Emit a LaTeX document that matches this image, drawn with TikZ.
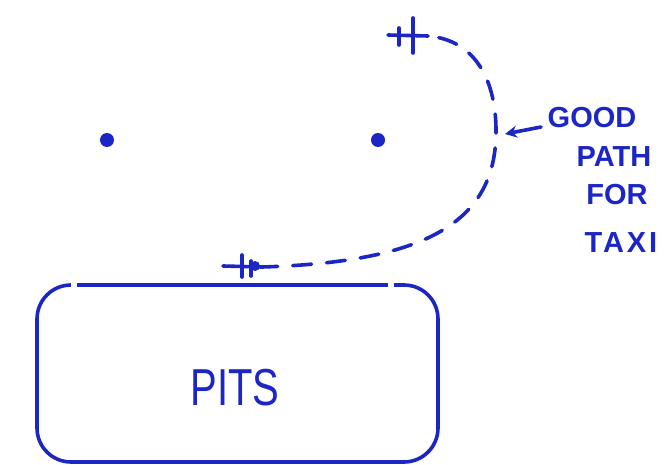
\documentclass[tikz,border=0pt]{standalone}
\usepackage{fontspec}
\usepackage{graphicx}
\setmainfont{Liberation Sans}
\usetikzlibrary{arrows.meta}
\definecolor{ink}{RGB}{28,38,196}
\tikzset{
  pen/.style={draw=ink, line width=3.6pt, line cap=round, line join=round},
  dot/.style={circle, fill=ink, draw=none, minimum size=14pt, inner sep=0pt},
  handtext/.style={text=ink, inner sep=0pt, font=\fontsize{29}{34}\selectfont\bfseries},
  taxipath/.style={pen, dash pattern=on 19pt off 15pt, dash phase=23pt},
  boxstyle/.style={pen, rounded corners=34pt, minimum width=401pt, minimum height=177pt, inner sep=0pt}
}
\begin{document}
\begin{tikzpicture}[x=1pt, y=-1pt]
\useasboundingbox (0,0) rectangle (669,465);
\fill[white] (0,0) rectangle (669,465);

% dots
\node[dot] (dotl) at (107,140) {};
\node[dot] (dotr) at (378,140) {};

% top start mark
\coordinate (topa) at (388,35);
\coordinate (topb) at (428,36);
\draw[pen] (topa) -- (topb);
\draw[pen] (399,28) -- (399,45);
\draw[pen] (413,18) -- (413,53);

% bottom end mark
\coordinate (bota) at (223,266);
\coordinate (botb) at (262,267);
\draw[pen] (bota) -- (botb);
\draw[pen] (242,255) -- (242,277);
\draw[pen] (251,261) -- (251,276);
\fill[ink] (255,266) circle (5pt);

% dashed taxi path
\coordinate (mid) at (496,135);
\draw[taxipath] (topb) .. controls (475,40) and (497,80) .. (mid)
  .. controls (494,220) and (430,262) .. (botb);

% label
\node[handtext] (good) at (592,118) {GOOD};
\node[handtext] (path) at (614,157) {PATH};
\node[handtext] (for) at (617,195) {FOR};
\node[handtext, font=\fontsize{29}{34}\selectfont\bfseries\addfontfeature{LetterSpace=10}] (taxi) at (621,243) {TAXI};

\coordinate (arrowtail) at (541,127);
\coordinate (arrowtip) at (505,134);
\draw[pen, -{Stealth[length=12pt, width=12pt]}] (arrowtail) -- (arrowtip);

% pits box
\node[boxstyle] (pits) at (237.5,373.5) {};
\draw[white, line width=6pt] (71,285) -- (77,285);
\draw[white, line width=6pt] (388,285) -- (394,285);
\node[text=ink, inner sep=0pt, font=\fontsize{40}{44}\selectfont] (pitslabel) at (235,388) {\scalebox{1}[1.3]{PITS}};
\end{tikzpicture}
\end{document}
